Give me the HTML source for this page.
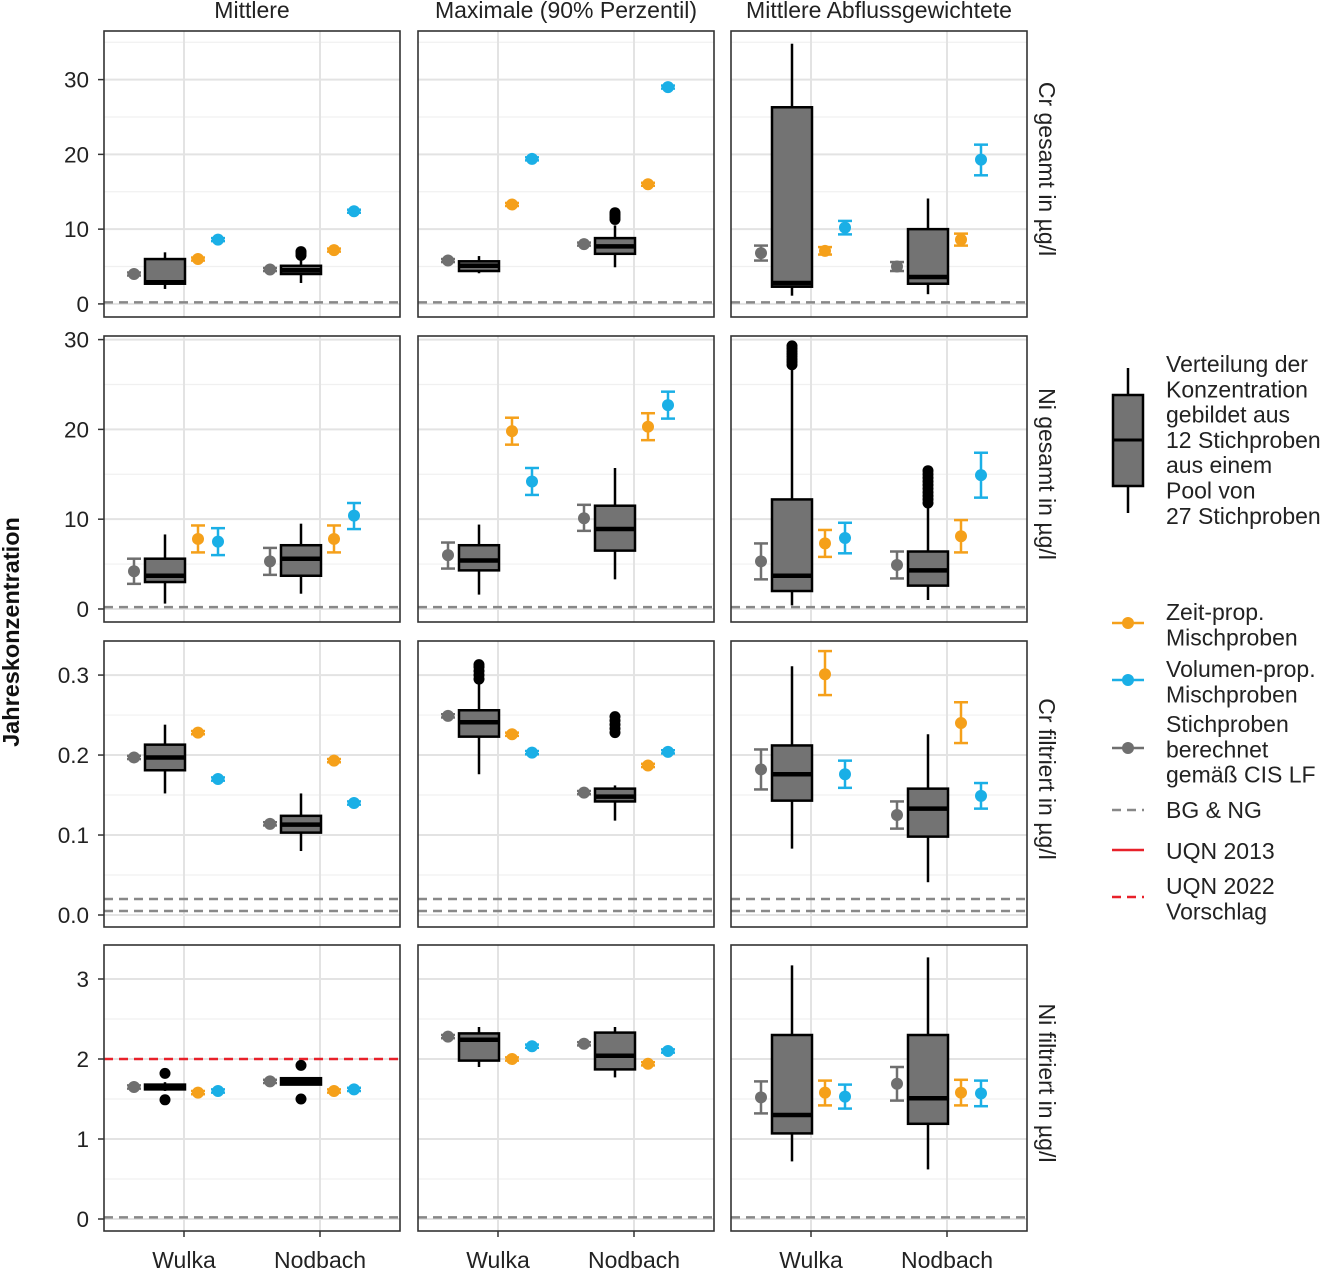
<!DOCTYPE html>
<html><head><meta charset="utf-8">
<style>
html,body{margin:0;padding:0;background:#fff;}
svg{display:block;font-family:"Liberation Sans",sans-serif;}
</style></head>
<body>
<svg id="chart" width="1323" height="1269" viewBox="0 0 1323 1269"></svg>
<script>
// ---- data ----
const colNames = ["Mittlere","Maximale (90% Perzentil)","Mittlere Abflussgewichtete"];
const rowNames = ["Cr gesamt in µg/l","Ni gesamt in µg/l","Cr filtriert in µg/l","Ni filtriert in µg/l"];
const sites = ["Wulka","Nodbach"];
const yDomains = [[-1.75,36.5],[-1.45,30.4],[-0.015,0.3426],[-0.15,3.425]];
const yTicks = [[0,10,20,30],[0,10,20,30],[0.0,0.1,0.2,0.3],[0,1,2,3]];
const yTickLabels = [["0","10","20","30"],["0","10","20","30"],["0.0","0.1","0.2","0.3"],["0","1","2","3"]];
const bgLines = [[0.2],[0.2],[0.02,0.005],[0.02]];
const grayVals = [
 [[[4,3.8,4.2],[4.6,4.4,4.8]],[[5.8,5.6,6],[8,7.8,8.2]],[[6.8,5.8,7.8],[5,4.4,5.6]]],
 [[[4.2,2.8,5.6],[5.3,3.8,6.8]],[[6,4.5,7.4],[10.1,8.7,11.6]],[[5.3,3.3,7.3],[4.9,3.4,6.4]]],
 [[[0.197,0.195,0.199],[0.114,0.112,0.116]],[[0.249,0.247,0.251],[0.153,0.151,0.155]],[[0.182,0.157,0.207],[0.125,0.108,0.142]]],
 [[[1.65,1.63,1.67],[1.72,1.70,1.74]],[[2.28,2.26,2.30],[2.19,2.17,2.21]],[[1.52,1.32,1.72],[1.69,1.48,1.90]]]
];
const boxStats = [
 [[[2.0,2.7,2.9,6.0,6.9],[2.8,4.0,4.5,5.1,6.3]],[[4.1,4.4,5.1,5.7,6.4],[4.9,6.7,7.7,8.8,10.5]],[[1.1,2.3,2.8,26.3,34.8],[1.3,2.7,3.6,10.0,14.1]]],
 [[[0.6,3.0,3.7,5.6,8.3],[1.7,3.7,5.6,7.1,9.5]],[[1.6,4.3,5.4,7.1,9.4],[3.3,6.5,8.9,11.5,15.7]],[[0.4,2.0,3.7,12.2,26.9],[1.0,2.6,4.3,6.4,11.6]]],
 [[[0.152,0.181,0.197,0.213,0.238],[0.080,0.103,0.113,0.124,0.152]],[[0.176,0.223,0.241,0.256,0.290],[0.118,0.142,0.148,0.158,0.162]],[[0.083,0.143,0.176,0.212,0.311],[0.041,0.098,0.133,0.158,0.226]]],
 [[[1.60,1.62,1.65,1.68,1.71],[1.67,1.68,1.72,1.76,1.77]],[[1.90,1.98,2.24,2.32,2.40],[1.77,1.87,2.04,2.33,2.40]],[[0.72,1.07,1.30,2.30,3.17],[0.62,1.19,1.51,2.30,3.27]]]
];
const outliers = [
 [[[],[6.5,6.8,7.0]],[[],[11.3,11.6,11.9,12.2]],[[],[]]],
 [[[],[]],[[],[]],[[27.2,27.5,27.8,28.1,28.4,28.7,29.0,29.3],[11.8,12.2,12.6,13.0,13.4,13.8,14.2,14.6,15.0,15.4]]],
 [[[],[]],[[0.295,0.300,0.305,0.310,0.313],[0.228,0.233,0.238,0.243,0.248]],[[],[]]],
 [[[1.49,1.82],[1.50,1.92]],[[],[]],[[],[]]]
];
const orangeVals = [
 [[[6,5.8,6.2],[7.2,7.0,7.4]],[[13.3,13.1,13.5],[16,15.8,16.2]],[[7.1,6.6,7.6],[8.6,7.8,9.4]]],
 [[[7.8,6.3,9.3],[7.8,6.3,9.3]],[[19.8,18.3,21.3],[20.3,18.8,21.8]],[[7.3,5.8,8.8],[8.1,6.3,9.9]]],
 [[[0.228,0.226,0.230],[0.193,0.191,0.195]],[[0.226,0.224,0.228],[0.187,0.185,0.189]],[[0.301,0.275,0.330],[0.240,0.215,0.266]]],
 [[[1.58,1.56,1.60],[1.60,1.58,1.62]],[[2.00,1.98,2.02],[1.94,1.92,1.96]],[[1.58,1.42,1.73],[1.58,1.42,1.74]]]
];
const blueVals = [
 [[[8.6,8.4,8.8],[12.4,12.2,12.6]],[[19.4,19.2,19.6],[29,28.8,29.2]],[[10.2,9.3,11.1],[19.3,17.2,21.3]]],
 [[[7.5,6.0,9.0],[10.4,8.9,11.8]],[[14.2,12.7,15.7],[22.7,21.2,24.2]],[[7.9,6.2,9.6],[14.9,12.4,17.4]]],
 [[[0.170,0.168,0.172],[0.140,0.138,0.142]],[[0.203,0.201,0.205],[0.204,0.202,0.206]],[[0.176,0.159,0.193],[0.149,0.133,0.165]]],
 [[[1.60,1.58,1.62],[1.62,1.60,1.64]],[[2.16,2.14,2.18],[2.10,2.08,2.12]],[[1.53,1.38,1.68],[1.57,1.41,1.73]]]
];
const redLines = [[[],[],[]],[[],[],[]],[[],[],[]],[[2],[],[]]];

// ---- layout ----
const colX = [104,418,731], panelW = 296;
const rowY = [31,336,641,945], panelH = 286;
const NS = "http://www.w3.org/2000/svg";
const svg = document.getElementById("chart");
function mk(tag, attrs, parent){ const e=document.createElementNS(NS,tag); for(const k in attrs) e.setAttribute(k,attrs[k]); (parent||svg).appendChild(e); return e; }
const C_GRAY="#6f6f6f", C_OR="#F5A01A", C_BL="#1AAFE6";

for(let r=0;r<4;r++){
  const [d0,d1]=yDomains[r];
  const y = v => rowY[r]+panelH - (v-d0)/(d1-d0)*panelH;
  for(let c=0;c<3;c++){
    const L=colX[c], T=rowY[r];
    const g=mk("g",{});
    
    
    mk("rect",{x:L,y:T,width:panelW,height:panelH,fill:"#fff"},g);
    const tk=yTicks[r], step=tk[1]-tk[0];
    for(let i=0;i<tk.length;i++){
      const ym=y(tk[i]+step/2);
      if(ym>T && ym<T+panelH) mk("line",{x1:L,x2:L+panelW,y1:ym,y2:ym,stroke:"#f0f0f0","stroke-width":1.2},g);
      const ymn=y(tk[i]-step/2); if(i==0 && ymn>T && ymn<T+panelH) mk("line",{x1:L,x2:L+panelW,y1:ymn,y2:ymn,stroke:"#f0f0f0","stroke-width":1.2},g);
    }
    tk.forEach(t=>mk("line",{x1:L,x2:L+panelW,y1:y(t),y2:y(t),stroke:"#e3e3e3","stroke-width":2},g));
    const xs=[L+80,L+216];
    xs.forEach(xx=>mk("line",{x1:xx,x2:xx,y1:T,y2:T+panelH,stroke:"#e3e3e3","stroke-width":2},g));
    bgLines[r].forEach(v=>{const l=mk("line",{x1:L,x2:L+panelW,y1:y(v),y2:y(v),stroke:"#888","stroke-width":2.5,"stroke-dasharray":"9,6"},g);
       });
    redLines[r][c].forEach(v=>{const l=mk("line",{x1:L,x2:L+panelW,y1:y(v),y2:y(v),stroke:"#e8212a","stroke-width":2.5,"stroke-dasharray":"9,6"},g);
       });
    for(let s=0;s<2;s++){
      const xc=xs[s];
      const pt=(vals,dx,col,nm)=>{
        const [v,lo,hi]=vals; const px=xc+dx;
        const gg=mk("g",{},g);
        
        
        mk("line",{x1:px,x2:px,y1:y(lo),y2:y(hi),stroke:col,"stroke-width":2.5},gg);
        mk("line",{x1:px-7,x2:px+7,y1:y(lo),y2:y(lo),stroke:col,"stroke-width":2.5},gg);
        mk("line",{x1:px-7,x2:px+7,y1:y(hi),y2:y(hi),stroke:col,"stroke-width":2.5},gg);
        mk("circle",{cx:px,cy:y(v),r:6,fill:col},gg);
      };
      pt(grayVals[r][c][s],-50,C_GRAY,"stichproben-point");
      const [mn,q1,md,q3,mx]=boxStats[r][c][s]; const bx=xc-19;
      const bg=mk("g",{},g);
      
      
      mk("line",{x1:bx,x2:bx,y1:y(mn),y2:y(q1),stroke:"#000","stroke-width":2.5},bg);
      mk("line",{x1:bx,x2:bx,y1:y(q3),y2:y(mx),stroke:"#000","stroke-width":2.5},bg);
      mk("rect",{x:bx-20,y:y(q3),width:40,height:Math.max(0.5,y(q1)-y(q3)),fill:"#737373",stroke:"#000","stroke-width":2.5},bg);
      mk("line",{x1:bx-20,x2:bx+20,y1:y(md),y2:y(md),stroke:"#000","stroke-width":4.5},bg);
      outliers[r][c][s].forEach(o=>mk("circle",{cx:bx,cy:y(o),r:5.5,fill:"#000"},bg));
      pt(orangeVals[r][c][s],14,C_OR,"zeit-prop-point");
      pt(blueVals[r][c][s],34,C_BL,"volumen-prop-point");
    }
    mk("rect",{x:L,y:T,width:panelW,height:panelH,fill:"none",stroke:"#333","stroke-width":1.6},g);
    if(c===0){
      tk.forEach((t,i)=>{
        mk("line",{x1:L-6,x2:L,y1:y(t),y2:y(t),stroke:"#333","stroke-width":1.5});
        const tx=mk("text",{x:L-15,y:y(t)+8,"text-anchor":"end","font-size":22.5,fill:"#222"});
        tx.textContent=yTickLabels[r][i];
         
      });
    }
    if(r===3){
      xs.forEach((xx,i)=>{
        mk("line",{x1:xx,x2:xx,y1:T+panelH,y2:T+panelH+6,stroke:"#333","stroke-width":1.5});
        const tx=mk("text",{x:xx,y:1268,"text-anchor":"middle","font-size":23,fill:"#222"});
        tx.textContent=sites[i];
         
      });
    }
  }
  const cy=rowY[r]+panelH/2-5;
  const rt=mk("text",{x:1039,y:cy,"text-anchor":"middle","font-size":23,fill:"#222",transform:`rotate(90 1039 ${cy})`});
  rt.textContent=rowNames[r];
   
}
colNames.forEach((n,c)=>{
  const t=mk("text",{x:colX[c]+panelW/2,y:18,"text-anchor":"middle","font-size":23,fill:"#222"});
  t.textContent=n;
   
});
const yt=mk("text",{x:19,y:632,"text-anchor":"middle","font-size":23.5,"font-weight":"bold",fill:"#111",transform:"rotate(-90 19 632)"});
yt.textContent="Jahreskonzentration";
 

// legend
const lg=mk("g",{});
 
mk("line",{x1:1128,x2:1128,y1:368,y2:513,stroke:"#000","stroke-width":2.5},lg);
mk("rect",{x:1113,y:395,width:30,height:91,fill:"#737373",stroke:"#000","stroke-width":2.5},lg);
mk("line",{x1:1113,x2:1143,y1:440,y2:440,stroke:"#000","stroke-width":3},lg);
function ltext(lines,y0){ lines.forEach((s,i)=>{const t=mk("text",{x:1166,y:y0+i*25.3,"font-size":23,fill:"#222"},lg); t.textContent=s;}); }
ltext(["Verteilung der","Konzentration","gebildet aus","12 Stichproben","aus einem","Pool von","27 Stichproben"],372);
function lpt(col,y){ mk("line",{x1:1112,x2:1144,y1:y,y2:y,stroke:col,"stroke-width":2.5},lg); mk("circle",{cx:1128,cy:y,r:6,fill:col},lg); }
lpt(C_OR,623); ltext(["Zeit-prop.","Mischproben"],620);
lpt(C_BL,680); ltext(["Volumen-prop.","Mischproben"],677);
lpt(C_GRAY,748); ltext(["Stichproben","berechnet","gemäß CIS LF"],732);
mk("line",{x1:1112,x2:1144,y1:810,y2:810,stroke:"#888","stroke-width":2.5,"stroke-dasharray":"9,6"},lg); ltext(["BG & NG"],818);
mk("line",{x1:1112,x2:1144,y1:850,y2:850,stroke:"#e8212a","stroke-width":2.5},lg); ltext(["UQN 2013"],859);
mk("line",{x1:1112,x2:1144,y1:897,y2:897,stroke:"#e8212a","stroke-width":2.5,"stroke-dasharray":"9,6"},lg); ltext(["UQN 2022","Vorschlag"],894);
</script>
</body></html>
